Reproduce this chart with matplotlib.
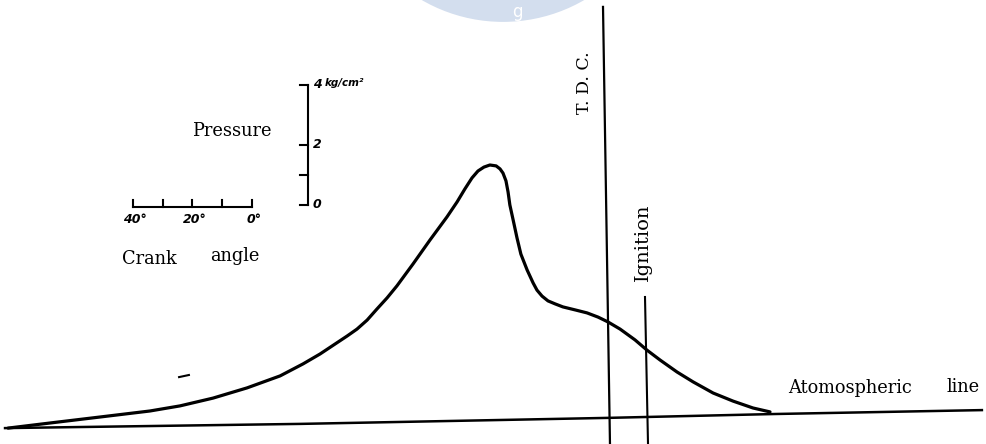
import matplotlib
matplotlib.use("Agg")
import matplotlib.pyplot as plt
from matplotlib.patches import Ellipse

# Crank angle relative to T.D.C. (deg) and pressure above atmospheric (kg/cm^2)
crank_deg = [-201.0, -186.9, -170.1, -153.4, -143.3, -132.2, -120.8, -109.7, -102.0, -96.3,
             -87.2, -83.9, -80.5, -77.2, -73.8, -70.5, -65.1, -59.4, -53.7, -50.3, -47.7,
             -45.3, -43.3, -41.3, -39.3, -37.2, -35.9, -34.9, -33.9, -33.2, -32.6,
             -31.5, -30.2, -28.9, -26.8, -24.8, -23.5, -21.8, -19.8, -17.4, -14.8,
             -10.7, -6.7, -3.0, 0.3, 4.4, 9.4, 13.4, 17.8, 23.5, 28.9,
             35.6, 42.3, 49.0, 54.7]
pressure = [-0.27, -0.10, 0.10, 0.30, 0.47, 0.73, 1.07, 1.47, 1.87, 2.20,
            2.80, 3.03, 3.33, 3.70, 4.07, 4.47, 5.20, 6.00, 6.77, 7.27, 7.70,
            8.07, 8.30, 8.43, 8.50, 8.47, 8.37, 8.23, 7.97, 7.60, 7.17,
            6.67, 6.07, 5.53, 5.00, 4.57, 4.33, 4.13, 3.97, 3.87, 3.77,
            3.67, 3.57, 3.43, 3.27, 3.03, 2.67, 2.33, 2.00, 1.60, 1.27,
            0.90, 0.63, 0.40, 0.27]

atm_deg = [-202.0, -103.0, -35.9, 0.0, 56.4, 125.8]
atm_p = [-0.27, -0.13, 0.0, 0.07, 0.20, 0.33]

tdc_deg = [-1.34, 1.0]
tdc_p = [13.77, -0.8]
ign_deg = [12.75, 13.76]
ign_p = [4.1, -0.8]

pressure_ticks = [0, 1, 2, 4]
pressure_tick_labels = {0: "0", 2: "2", 4: "4"}
crank_ticks = [40, 30, 20, 10, 0]
crank_tick_labels = {40: "40°", 20: "20°", 0: "0°"}

fig = plt.figure(figsize=(9.86, 4.44), dpi=100)
fig.patch.set_facecolor("white")
ax = fig.add_axes([0, 0, 1, 1])
ax.set_xlim(-607 / 2.98, 379 / 2.98)
ax.set_ylim(-0.8, 14.0)
ax.set_axis_off()

# faint watermark
ax.add_patch(Ellipse((-34.9, 18.67), 108.7, 10.8, color="#d3deee", zorder=0, lw=0))
ax.text(-30.2, 13.6, "g", color="white", fontsize=12, ha="center", va="center",
        family="DejaVu Sans", zorder=1)

ink = "black"
ax.plot(crank_deg, pressure, color=ink, lw=2.3, solid_capstyle="round",
        solid_joinstyle="round", zorder=3)
ax.plot(atm_deg, atm_p, color=ink, lw=1.8, zorder=3)
ax.plot(tdc_deg, tdc_p, color=ink, lw=1.6, zorder=3)
ax.plot(ign_deg, ign_p, color=ink, lw=1.5, zorder=3)

serif = "DejaVu Serif"
fs = 12.8
ax.text(-7.4, 11.23, "T. D. C.", rotation=90, ha="center", va="center", fontsize=12.5, family=serif)
ax.text(12.1, 5.93, "Ignition", rotation=90, ha="center", va="center", fontsize=14, family=serif)
ax.text(-125.8, 9.63, "Pressure", ha="center", va="center", fontsize=fs, family=serif)
ax.text(-162.8, 5.37, "Crank", ha="left", va="center", fontsize=fs, family=serif)
ax.text(-133.2, 5.47, "angle", ha="left", va="center", fontsize=fs, family=serif)
ax.text(60.7, 1.07, "Atomospheric", ha="left", va="center", fontsize=fs, family=serif)
ax.text(114.1, 1.1, "line", ha="left", va="center", fontsize=fs, family=serif)

# pressure scale bar
px0 = -100.3
p0 = 7.167
ax.plot([px0, px0], [p0, p0 + 4], color=ink, lw=1.5)
for t in pressure_ticks:
    ax.plot([px0 - 2.6, px0], [p0 + t, p0 + t], color=ink, lw=1.5)
    if t in pressure_tick_labels:
        ax.text(px0 + 1.6, p0 + t, pressure_tick_labels[t], ha="left", va="center",
                fontsize=9, style="italic", weight="bold", family="DejaVu Sans")
ax.text(px0 + 5.5, p0 + 4.05, "kg/cm²", ha="left", va="center", fontsize=7.5,
        style="italic", weight="bold", family="DejaVu Sans")

# crank angle scale bar
cx0 = -119.13
cy0 = 7.1
ax.plot([cx0 - 40, cx0], [cy0, cy0], color=ink, lw=1.5)
for a in crank_ticks:
    ax.plot([cx0 - a, cx0 - a], [cy0, cy0 + 0.25], color=ink, lw=1.5)
    if a in crank_tick_labels:
        ax.text(cx0 - a + 0.8, cy0 - 0.4, crank_tick_labels[a], ha="center", va="center",
                fontsize=9, style="italic", weight="bold", family="DejaVu Sans")

# stray mark
ax.plot([-143.6, -140.3], [1.43, 1.5], color=ink, lw=1.5)

fig.savefig("out.png", dpi=100, facecolor="white")
